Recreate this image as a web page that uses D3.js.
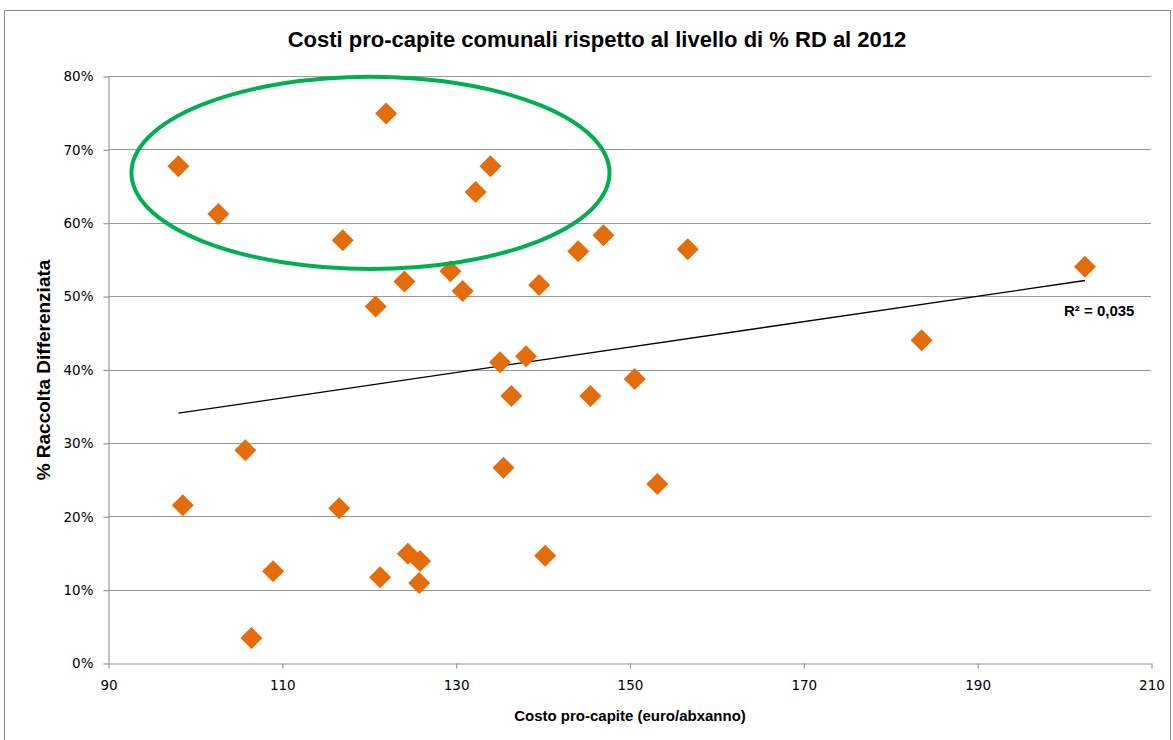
<!DOCTYPE html>
<html><head><meta charset="utf-8">
<script src="https://cdn.jsdelivr.net/npm/d3@7"></script>
<style>body{margin:0;background:#fff}svg{display:block}</style>
</head><body>
<svg id="c" width="1173" height="740"></svg>
<script>
// Data: costo pro-capite (euro/ab x anno) vs % raccolta differenziata
const costo = [98.1,102.7,122.0,117.0,132.3,134.0,124.1,120.8,129.4,130.8,139.6,144.1,147.0,156.7,202.4,183.6,135.1,138.1,136.4,145.5,150.6,105.8,98.6,116.6,135.5,153.2,109.0,106.5,121.3,124.5,125.9,125.8,140.3];
const rd    = [0.677,0.612,0.749,0.576,0.642,0.677,0.520,0.486,0.534,0.507,0.515,0.561,0.583,0.564,0.540,0.440,0.410,0.418,0.364,0.364,0.387,0.290,0.215,0.211,0.266,0.244,0.125,0.034,0.117,0.149,0.139,0.109,0.146];
const xTicks = [90,110,130,150,170,190,210];
const yTicks = [0,0.1,0.2,0.3,0.4,0.5,0.6,0.7,0.8];
const title = "Costi pro-capite comunali rispetto al livello di % RD al 2012";
const xTitle = "Costo pro-capite  (euro/abxanno)";
const yTitle = "% Raccolta Differenziata";
const r2Label = "R² = 0,035";
// annotation ellipse (data units): center x, center y, radius x, radius y
const ellipseC = [120.2, 0.668];
const ellipseR = [27.5, 0.131];

const svg = d3.select("#c");
const L=108, R=1151, T=76, B=663;
const x = d3.scaleLinear().domain([90,210]).range([L,R]);
const y = d3.scaleLinear().domain([0,0.8]).range([B,T]);
const gray = "#989898";

// outer border
svg.append("rect").attr("x",4.5).attr("y",10.5).attr("width",1166).attr("height",740)
  .attr("fill","none").attr("stroke","#8c8c8c").attr("stroke-width",1);

// title
svg.append("text").attr("x",597).attr("y",47).attr("text-anchor","middle")
  .attr("font-family","'Liberation Sans Narrow', 'Arial Narrow', sans-serif").attr("font-weight","bold")
  .attr("font-size",22).attr("fill","#000").text(title);

// gridlines
svg.append("g").selectAll("line").data(yTicks.slice(1)).join("line")
  .attr("x1",L).attr("x2",R).attr("y1",d=>Math.round(y(d))+0.5).attr("y2",d=>Math.round(y(d))+0.5)
  .attr("stroke",gray).attr("stroke-width",1.2);

// axes
const yAxis = d3.axisLeft(y).tickValues(yTicks).tickFormat(d3.format(".0%")).tickSizeInner(5).tickSizeOuter(0).tickPadding(10);
const gy = svg.append("g").attr("transform",`translate(${L+0.5},0.5)`).call(yAxis);
const xAxis = d3.axisBottom(x).tickValues(xTicks).tickFormat(d3.format("d")).tickSizeInner(5).tickSizeOuter(0).tickPadding(12);
const gx = svg.append("g").attr("transform",`translate(0.5,${B+0.5})`).call(xAxis);
[gy,gx].forEach(g=>{
  g.selectAll("path,line").attr("stroke",gray).attr("stroke-width",1.2);
  g.selectAll("text").attr("font-family","'DejaVu Sans', sans-serif").attr("font-size",13.5).attr("fill","#000");
});

// axis titles
svg.append("text").attr("x",630).attr("y",721).attr("text-anchor","middle")
  .attr("font-family","'Liberation Sans Narrow', sans-serif").attr("font-weight","bold")
  .attr("font-size",15).text(xTitle);
svg.append("text").attr("transform","translate(50,370) rotate(-90)").attr("text-anchor","middle")
  .attr("font-family","'Liberation Sans Narrow', sans-serif").attr("font-weight","bold")
  .attr("font-size",19).text(yTitle);

// trendline (least squares)
const n = costo.length;
const mx = d3.mean(costo), my = d3.mean(rd);
const slope = d3.sum(costo.map((c,i)=>(c-mx)*(rd[i]-my))) / d3.sum(costo.map(c=>(c-mx)**2));
const icpt = my - slope*mx;
const x0 = d3.min(costo), x1 = d3.max(costo);
svg.append("line").attr("x1",x(x0)).attr("y1",y(icpt+slope*x0)).attr("x2",x(x1)).attr("y2",y(icpt+slope*x1))
  .attr("stroke","#000").attr("stroke-width",1.3);

// points
const s = 11;
svg.append("g").selectAll("path").data(costo.map((c,i)=>[c,rd[i]])).join("path")
  .attr("d",`M0,${-s}L${s},0L0,${s}L${-s},0Z`)
  .attr("transform",d=>`translate(${x(d[0])},${y(d[1])})`)
  .attr("fill","#E46C0A");

// R² label
svg.append("text").attr("x",1064).attr("y",316)
  .attr("font-family","'Liberation Sans Narrow', sans-serif").attr("font-weight","bold")
  .attr("font-size",15).text(r2Label);

// ellipse annotation
svg.append("ellipse").attr("cx",x(ellipseC[0])).attr("cy",y(ellipseC[1]))
  .attr("rx",x(ellipseC[0]+ellipseR[0])-x(ellipseC[0])).attr("ry",y(ellipseC[1]-ellipseR[1])-y(ellipseC[1]))
  .attr("fill","none").attr("stroke","#00B050").attr("stroke-width",4);
</script>
</body></html>
